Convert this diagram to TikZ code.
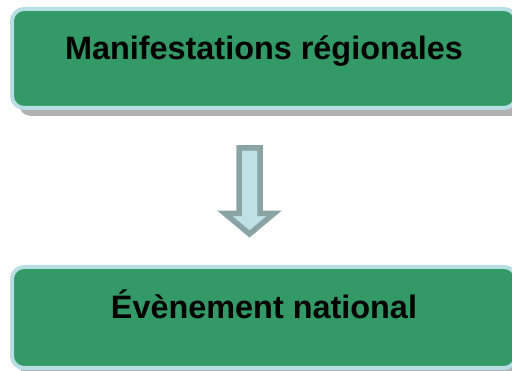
\documentclass[tikz,border=0pt]{standalone}
\usepackage{fontspec}
\setmainfont{Liberation Sans}
\usetikzlibrary{shadows, positioning, calc}
\definecolor{boxGreen}{RGB}{51, 153, 102}
\definecolor{boxRim}{RGB}{183, 222, 227}
\definecolor{arrowFill}{RGB}{189, 225, 228}
\definecolor{arrowLine}{RGB}{138, 164, 166}

\begin{document}
\begin{tikzpicture}[x=1pt, y=1pt,
    stage/.style={draw=boxRim, line width=4pt, fill=boxGreen, rounded corners=12pt,
        minimum width=504pt, minimum height=99pt, text=black,
        font=\bfseries\fontsize{32.4}{36}\selectfont, text height=24pt, text depth=22pt,
        drop shadow={shadow xshift=7pt, shadow yshift=-8pt, fill=gray!60, opacity=1}},
    flow/.style={draw=arrowLine, fill=arrowFill, line width=5.5pt, line join=miter}]
    \useasboundingbox (0,0) rectangle (512,371);
    \clip (0,0) rectangle (512,371);
    % Boxes
    \node[stage] at (264,312.5) (regional) {Manifestations régionales};
    \node[stage, minimum height=101pt] at (264,53.5) (national) {Évènement national};
    % Block arrow
    \draw[flow] (239,223) -- (260,223) -- (260,157.5) -- (274,157.5) -- (249.5,137)
        -- (225,157.5) -- (239,157.5) -- cycle;
\end{tikzpicture}
\end{document}
